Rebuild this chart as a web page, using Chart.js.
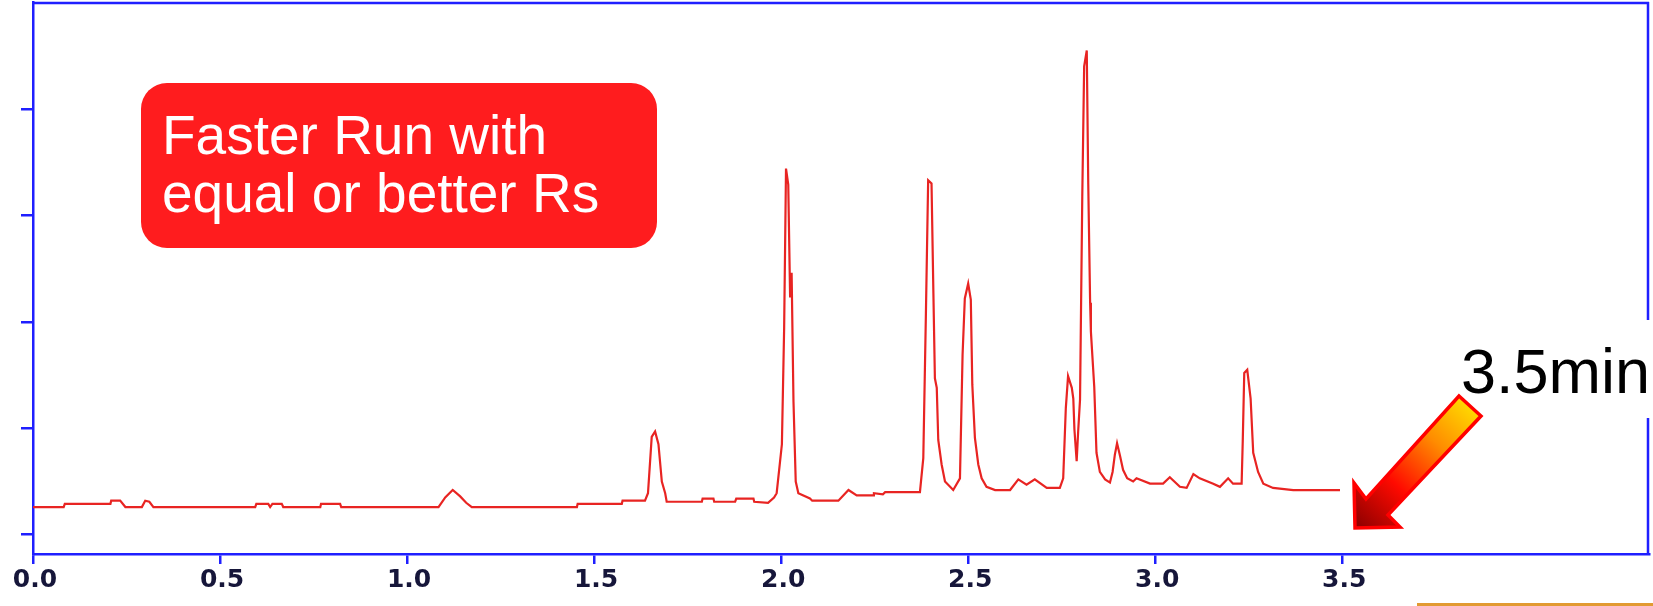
<!DOCTYPE html>
<html lang="en">
<head>
  <meta charset="UTF-8" />
  <title>Faster Run chromatogram</title>
  <script src="https://cdn.jsdelivr.net/npm/chart.js"></script>
  <style>
    html, body {
      margin: 0;
      padding: 0;
      background: #ffffff;
    }
    .chart-wrap {
      width: 1653px;
      height: 606px;
      position: relative;
    }
  </style>
</head>
<body>
  <div class="chart-wrap">
    <canvas id="chromChart"></canvas>
  </div>

  <script>
    // retention time (min) and detector signal
    const times = [
      0.000, 0.082, 0.085, 0.207, 0.209, 0.233, 0.247, 0.291, 0.300, 0.311,
      0.322, 0.594, 0.597, 0.629, 0.634, 0.640, 0.665, 0.669, 0.768, 0.770,
      0.821, 0.824, 1.084, 1.102, 1.122, 1.142, 1.158, 1.173, 1.454, 1.456,
      1.574, 1.576, 1.636, 1.644, 1.654, 1.663, 1.672, 1.681, 1.690, 1.694,
      1.788, 1.790, 1.819, 1.821, 1.877, 1.880, 1.926, 1.928, 1.965, 1.981,
      1.988, 2.002, 2.008, 2.013, 2.019, 2.024, 2.028, 2.033, 2.039, 2.046,
      2.077, 2.083, 2.153, 2.180, 2.202, 2.246, 2.248, 2.272, 2.278, 2.371,
      2.380, 2.387, 2.393, 2.402, 2.407, 2.411, 2.416, 2.420, 2.429, 2.438,
      2.460, 2.478, 2.485, 2.491, 2.500, 2.507, 2.511, 2.518, 2.527, 2.536,
      2.549, 2.572, 2.612, 2.634, 2.656, 2.678, 2.710, 2.745, 2.754, 2.761,
      2.767, 2.777, 2.781, 2.784, 2.790, 2.794, 2.799, 2.805, 2.810, 2.817,
      2.821, 2.826, 2.828, 2.837, 2.843, 2.852, 2.866, 2.879, 2.886, 2.892,
      2.898, 2.906, 2.914, 2.925, 2.941, 2.950, 2.986, 3.021, 3.039, 3.066,
      3.084, 3.102, 3.119, 3.155, 3.173, 3.195, 3.208, 3.231, 3.234, 3.238,
      3.246, 3.255, 3.262, 3.275, 3.289, 3.315, 3.369, 3.494
    ];
    const signal = [
      0.26, 0.26, 0.29, 0.29, 0.32, 0.32, 0.26, 0.26, 0.32, 0.31,
      0.26, 0.26, 0.29, 0.29, 0.26, 0.29, 0.29, 0.26, 0.26, 0.29,
      0.29, 0.26, 0.26, 0.35, 0.42, 0.36, 0.30, 0.26, 0.26, 0.29,
      0.29, 0.32, 0.32, 0.39, 0.92, 0.97, 0.85, 0.50, 0.39, 0.31,
      0.31, 0.34, 0.34, 0.31, 0.31, 0.34, 0.34, 0.31, 0.30, 0.35,
      0.39, 0.85, 1.94, 3.44, 3.29, 2.23, 2.46, 1.25, 0.50, 0.39,
      0.34, 0.32, 0.32, 0.42, 0.37, 0.37, 0.39, 0.38, 0.40, 0.40,
      0.72, 2.08, 3.33, 3.30, 2.27, 1.47, 1.38, 0.89, 0.66, 0.50,
      0.42, 0.53, 1.69, 2.22, 2.36, 2.21, 1.41, 0.91, 0.66, 0.53,
      0.45, 0.42, 0.42, 0.52, 0.47, 0.52, 0.44, 0.44, 0.53, 1.19,
      1.49, 1.38, 1.28, 0.99, 0.69, 0.97, 1.27, 3.18, 4.40, 4.55,
      3.29, 2.18, 1.91, 1.39, 0.77, 0.59, 0.52, 0.49, 0.59, 0.75,
      0.86, 0.74, 0.61, 0.53, 0.50, 0.53, 0.48, 0.48, 0.54, 0.45,
      0.44, 0.57, 0.53, 0.48, 0.45, 0.53, 0.48, 0.48, 0.88, 1.52,
      1.55, 1.28, 0.77, 0.59, 0.48, 0.44, 0.42, 0.42
    ];
    const xTicks = [0, 0.5, 1.0, 1.5, 2.0, 2.5, 3.0, 3.5];
    const yTicks = [0, 1, 2, 3, 4];

    const axisBlue = '#1f1fff';

    const points = times.map((t, i) => ({ x: t, y: signal[i] }));

    // frame, callout box, "3.5min" label and the arrow
    const overlayPlugin = {
      id: 'overlay',
      afterDraw(chart) {
        const ctx = chart.ctx;
        const area = chart.chartArea;
        ctx.save();

        // top and right side of the plot frame (right side broken by the label)
        ctx.strokeStyle = axisBlue;
        ctx.lineWidth = 2.5;
        ctx.beginPath();
        ctx.moveTo(area.left, area.top + 1);
        ctx.lineTo(area.right, area.top + 1);
        ctx.moveTo(area.right - 1, area.top);
        ctx.lineTo(area.right - 1, 320);
        ctx.moveTo(area.right - 1, 418);
        ctx.lineTo(area.right - 1, area.bottom + 1);
        ctx.stroke();

        // red callout
        ctx.fillStyle = '#ff1c1e';
        ctx.beginPath();
        ctx.roundRect(141, 83, 516, 165, 26);
        ctx.fill();
        ctx.fillStyle = '#ffffff';
        ctx.font = '55px "Liberation Sans", Arial, sans-serif';
        ctx.textBaseline = 'alphabetic';
        ctx.textAlign = 'left';
        ctx.fillText('Faster Run with', 162, 154);
        ctx.fillText('equal or better Rs', 162, 212);

        // 3.5min label
        ctx.fillStyle = '#000000';
        ctx.font = '63px "Liberation Sans", Arial, sans-serif';
        ctx.fillText('3.5min', 1461, 393);

        // block arrow pointing at the end of the run
        const grad = ctx.createLinearGradient(1356, 527, 1470, 406);
        grad.addColorStop(0, '#8c0000');
        grad.addColorStop(0.35, '#ff0a00');
        grad.addColorStop(0.7, '#ff8c00');
        grad.addColorStop(1, '#ffd800');
        ctx.beginPath();
        ctx.moveTo(1459, 396);
        ctx.lineTo(1481, 416);
        ctx.lineTo(1388, 515);
        ctx.lineTo(1400, 527);
        ctx.lineTo(1355, 528);
        ctx.lineTo(1354, 483);
        ctx.lineTo(1366, 499);
        ctx.closePath();
        ctx.fillStyle = grad;
        ctx.fill();
        ctx.strokeStyle = '#ff0000';
        ctx.lineWidth = 3.5;
        ctx.lineJoin = 'miter';
        ctx.stroke();

        // edge of the next slide element at the bottom right
        ctx.fillStyle = '#e29a32';
        ctx.fillRect(1417, 603, 236, 3);

        ctx.restore();
      }
    };

    new Chart(document.getElementById('chromChart'), {
      type: 'line',
      data: {
        datasets: [{
          data: points,
          borderColor: 'rgb(232, 36, 34)',
          borderWidth: 2.2,
          pointRadius: 0,
          tension: 0,
          fill: false
        }]
      },
      options: {
        responsive: true,
        maintainAspectRatio: false,
        animation: false,
        events: [],
        layout: {
          padding: { top: 2, right: 4, bottom: 0, left: 0 }
        },
        plugins: {
          legend: { display: false },
          tooltip: { enabled: false }
        },
        scales: {
          x: {
            type: 'linear',
            min: 0,
            max: 4.32,
            afterBuildTicks: scale => {
              scale.ticks = xTicks.map(v => ({ value: v }));
            },
            afterFit: scale => { scale.height = 52; },
            grid: {
              drawOnChartArea: false,
              drawTicks: true,
              tickLength: 10,
              color: axisBlue,
              lineWidth: 2.5
            },
            border: { display: true, color: axisBlue, width: 2.5 },
            ticks: {
              autoSkip: false,
              maxRotation: 0,
              padding: 1,
              labelOffset: 2,
              color: '#16163a',
              font: { family: 'DejaVu Sans', size: 25, weight: 'bold' },
              callback: v => Number(v).toFixed(1)
            }
          },
          y: {
            type: 'linear',
            min: -0.181,
            max: 5.005,
            afterBuildTicks: scale => {
              scale.ticks = yTicks.map(v => ({ value: v }));
            },
            afterFit: scale => { scale.width = 33; },
            grid: {
              drawOnChartArea: false,
              drawTicks: true,
              tickLength: 12,
              color: axisBlue,
              lineWidth: 2.5
            },
            border: { display: true, color: axisBlue, width: 2.5 },
            ticks: { display: false }
          }
        }
      },
      plugins: [overlayPlugin]
    });
  </script>
</body>
</html>
